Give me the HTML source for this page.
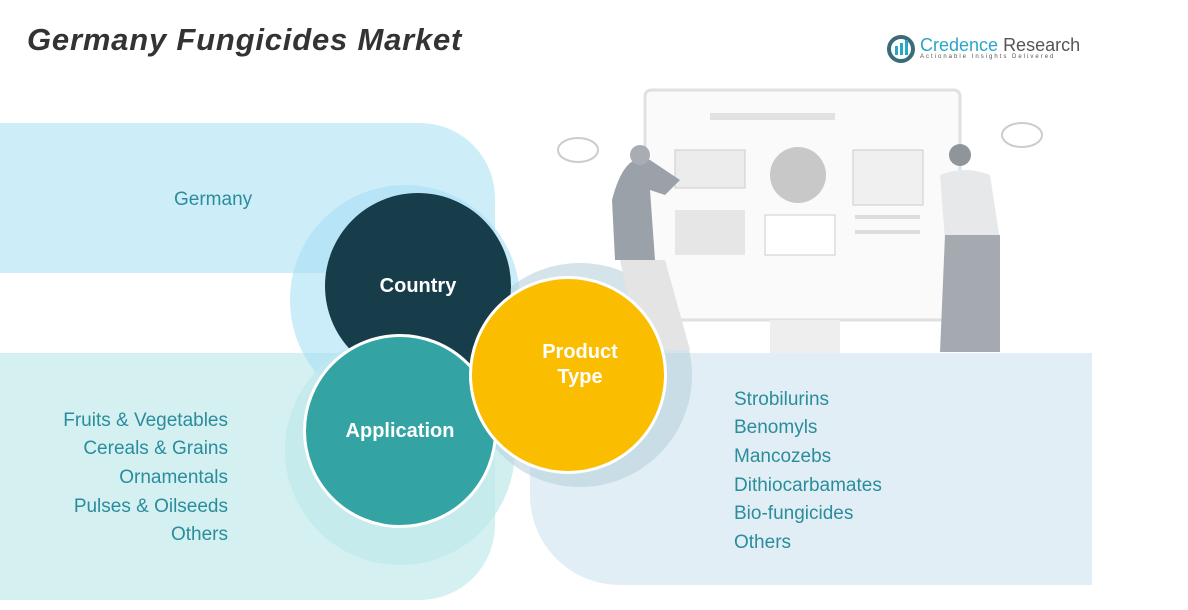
<!DOCTYPE html>
<html><head><meta charset="utf-8"><style>
body{margin:0;width:1188px;height:610px;background:#fff;position:relative;overflow:hidden;font-family:"Liberation Sans",sans-serif}
.a{position:absolute}
.t{color:#2b8d9c;font-size:19px;position:absolute;white-space:nowrap}
.l{right:960px;text-align:right}
.c{position:absolute;border-radius:50%;display:flex;align-items:center;justify-content:center;color:#fff;font-weight:bold;font-size:20px;text-align:center;line-height:25px}
</style></head><body>
<div class="a" style="left:27px;top:22px;font-size:31px;font-weight:bold;font-style:italic;color:#333;letter-spacing:0.8px">Germany Fungicides Market</div>
<svg class="a" style="left:886px;top:34px" width="32" height="30"><circle cx="15" cy="15" r="12" fill="none" stroke="#3a6b78" stroke-width="4"/><rect x="9" y="12" width="3" height="9" fill="#2aa7c4"/><rect x="14" y="9" width="3" height="12" fill="#2aa7c4"/><rect x="19" y="6" width="3" height="15" fill="#2aa7c4"/></svg>
<div class="a" style="left:920px;top:35px;font-size:18px;color:#2aa7c4">Credence <span style="color:#555">Research</span></div>
<div class="a" style="left:920px;top:54px;font-size:6px;letter-spacing:2px;color:#555">Actionable Insights Delivered</div>

<svg class="a" style="left:0;top:0" width="1188" height="610">
<path d="M0 123H420A75 75 0 0 1 495 198V273H0Z" fill="#cdeef9"/>
<path d="M0 353H495V525A75 75 0 0 1 420 600H0Z" fill="#d4f0f1"/>
<path d="M530 353H1092V585H620A90 90 0 0 1 530 495Z" fill="#e1eef5"/>
<circle cx="405" cy="300" r="115" fill="#a9e0f5" opacity="0.6"/>
<circle cx="400" cy="450" r="115" fill="#bfe8ea" opacity="0.7"/>
<circle cx="580" cy="375" r="112" fill="#b9d2dc" opacity="0.6"/>
<rect x="645" y="90" width="315" height="230" rx="6" fill="#fafafa" stroke="#e0e0e0" stroke-width="3"/>
<rect x="770" y="320" width="70" height="33" fill="#eee"/>
<rect x="710" y="113" width="125" height="7" fill="#e2e2e2"/>
<rect x="675" y="150" width="70" height="38" fill="#ececec" stroke="#ccc"/>
<circle cx="798" cy="175" r="28" fill="#c8c8c8"/>
<rect x="853" y="150" width="70" height="55" fill="#f0f0f0" stroke="#ccc"/>
<rect x="675" y="210" width="70" height="45" fill="#e6e6e6"/>
<rect x="765" y="215" width="70" height="40" fill="#fff" stroke="#ccc"/>
<rect x="855" y="215" width="65" height="4" fill="#ddd"/><rect x="855" y="230" width="65" height="4" fill="#ddd"/>
<ellipse cx="578" cy="150" rx="20" ry="12" fill="none" stroke="#ccc" stroke-width="2"/>
<ellipse cx="1022" cy="135" rx="20" ry="12" fill="none" stroke="#ccc" stroke-width="2"/>
<path d="M612 200Q625 150 650 160L680 180L665 195L650 190L655 260L615 260Z" fill="#9aa1a8"/>
<path d="M620 260L665 260L690 350L640 350Z" fill="#e4e4e4"/>
<circle cx="640" cy="155" r="10" fill="#a7adb2"/>
<path d="M940 175Q965 165 990 175L1000 240L945 240Z" fill="#e6e8ea"/>
<path d="M945 235L1000 235L1000 352L940 352Z" fill="#a4aab0"/>
<circle cx="960" cy="155" r="11" fill="#8e959b"/>
</svg>

<div class="c" style="left:325px;top:193px;width:186px;height:186px;background:#173d4a">Country</div>
<div class="c" style="left:303px;top:334px;width:194px;height:194px;background:#33a3a3;border:3px solid #fff;box-sizing:border-box">Application</div>
<div class="c" style="left:469px;top:276px;width:198px;height:198px;background:#fbbd00;border:3px solid #fff;box-sizing:border-box"><span style="margin:-20px 0 0 24px">Product<br>Type</span></div>

<div class="t" style="left:174px;top:189px">Germany</div>
<div class="t l" style="top:410px">Fruits &amp; Vegetables</div>
<div class="t l" style="top:438px">Cereals &amp; Grains</div>
<div class="t l" style="top:467px">Ornamentals</div>
<div class="t l" style="top:496px">Pulses &amp; Oilseeds</div>
<div class="t l" style="top:524px">Others</div>
<div class="t" style="left:734px;top:389px">Strobilurins</div>
<div class="t" style="left:734px;top:417px">Benomyls</div>
<div class="t" style="left:734px;top:446px">Mancozebs</div>
<div class="t" style="left:734px;top:475px">Dithiocarbamates</div>
<div class="t" style="left:734px;top:503px">Bio-fungicides</div>
<div class="t" style="left:734px;top:532px">Others</div>
</body></html>
